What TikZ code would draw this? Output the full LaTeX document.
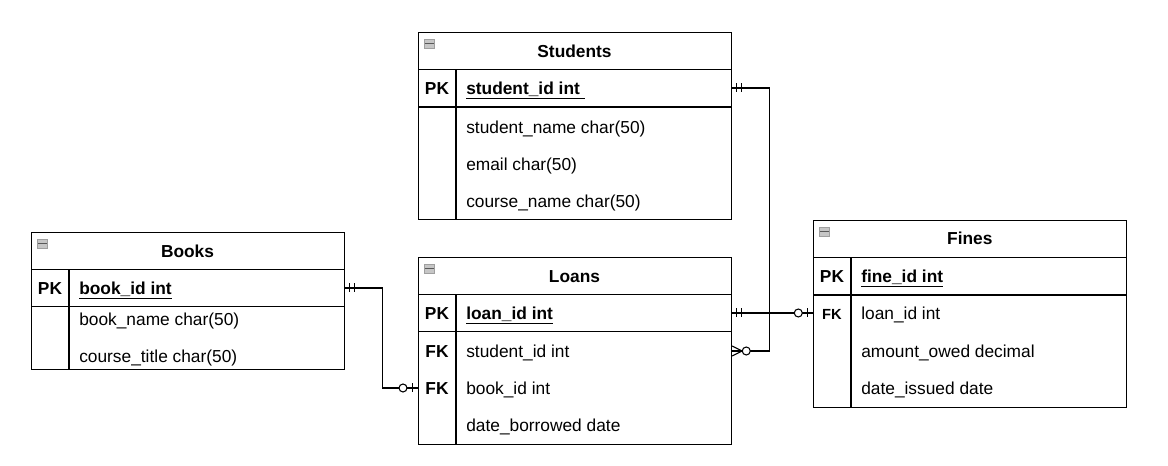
\documentclass[tikz,border=0pt]{standalone}
\usepackage{fontspec}
\setmainfont{Liberation Sans}
\usetikzlibrary{calc}
\newcommand\rowfont{\fontsize{13}{15}\selectfont}
\tikzset{
  tbl/.style={draw=black, line width=0.8pt, rectangle, inner sep=0pt, anchor=north west, minimum width=234.75pt},
  txt/.style={anchor=west, inner sep=0pt, text height=12pt, text depth=2.55pt, font=\rowfont},
  ttl/.style={txt, anchor=center, font=\rowfont\bfseries},
  keylbl/.style={txt, anchor=center, font=\rowfont\bfseries},
  smallkey/.style={txt, anchor=center, font=\fontsize{11}{13}\selectfont\bfseries},
  pktxt/.style={txt, font=\rowfont\bfseries},
  rule/.style={line width=0.8pt, draw=black},
  conn/.style={line width=0.8pt, draw=black},
  minus/.style={rectangle, inner sep=0pt, minimum width=7.5pt, minimum height=6.75pt, fill=gray!45, draw=gray!75, line width=0.5pt,
    path picture={\draw[black!65, line width=0.9pt] (path picture bounding box.west) -- (path picture bounding box.east);}},
  mone/.pic={\draw[conn] (4.5,-4.5) -- (4.5,4.5) (9,-4.5) -- (9,4.5);},
  zone/.pic={\draw[conn] (5.5,-4.5) -- (5.5,4.5); \draw[conn, fill=white] (15,0) circle[radius=4];},
  zmany/.pic={\draw[conn] (0,-5) -- (10,0) -- (0,5); \draw[conn, fill=white] (14.2,0) circle[radius=4];}
}
\begin{document}
\begin{tikzpicture}[x=0.75pt, y=-0.75pt]
\useasboundingbox[fill=white] (0,0) rectangle (1168,466);

% ---------- Students ----------
\node[tbl, minimum height=140.5pt] (students) at (418,32) {};
\draw[rule] (418,69.5) -- (731,69.5);
\draw[rule] (418,107) -- (731,107);
\draw[rule] (456,69.5) -- (456,219.3);
\node[minus] (stmin) at (429.5,43.5) {};
\node[ttl] (sttitle) at (574.5,51) {Students};
\node[keylbl] (stpkl) at (437,88) {PK};
\node[pktxt] (stpk) at (466,88) {\underline{student\_id int\ }};
\node[txt] (stname) at (466,127) {student\_name char(50)};
\node[txt] (stmail) at (466,164) {email char(50)};
\node[txt] (stcourse) at (466,201) {course\_name char(50)};

% ---------- Loans ----------
\node[tbl, minimum height=140.5pt] (loans) at (418,257) {};
\draw[rule] (418,294.3) -- (731,294.3);
\draw[rule] (418,331.7) -- (731,331.7);
\draw[rule] (456,294.3) -- (456,444.3);
\node[minus] (lnmin) at (429.5,268.5) {};
\node[ttl] (lntitle) at (574.5,276) {Loans};
\node[keylbl] (lnpkl) at (437,313) {PK};
\node[pktxt] (lnpk) at (466,313) {\underline{loan\_id int}};
\node[keylbl] (lnfk1) at (437,351) {FK};
\node[txt] (lnsid) at (466,351) {student\_id int};
\node[keylbl] (lnfk2) at (437,388) {FK};
\node[txt] (lnbid) at (466,388) {book\_id int};
\node[txt] (lndate) at (466,425.5) {date\_borrowed date};

% ---------- Books ----------
\node[tbl, minimum height=103pt] (books) at (31,232) {};
\draw[rule] (31,269.3) -- (344,269.3);
\draw[rule] (31,306.7) -- (344,306.7);
\draw[rule] (69,269.3) -- (69,369.3);
\node[minus] (bkmin) at (42.5,243.5) {};
\node[ttl] (bktitle) at (187.5,251) {Books};
\node[keylbl] (bkpkl) at (50,288) {PK};
\node[pktxt] (bkpk) at (79,288) {\underline{book\_id int}};
\node[txt] (bkname) at (79,319.4) {book\_name char(50)};
\node[txt] (bkcourse) at (79,356.4) {course\_title char(50)};

% ---------- Fines ----------
\node[tbl, minimum height=140pt] (fines) at (813.3,220) {};
\draw[rule] (813.3,257.3) -- (1126.3,257.3);
\draw[rule] (813.3,295) -- (1126.3,295);
\draw[rule] (851,257.3) -- (851,406.7);
\node[minus] (fnmin) at (824.8,231.5) {};
\node[ttl] (fntitle) at (969.8,238.5) {Fines};
\node[keylbl] (fnpkl) at (832,276) {PK};
\node[pktxt] (fnpk) at (861,276) {\underline{fine\_id int}};
\node[smallkey] (fnfkl) at (832,313) {FK};
\node[txt] (fnlid) at (861,313) {loan\_id int};
\node[txt] (fnamt) at (861,351) {amount\_owed decimal};
\node[txt] (fndate) at (861,388) {date\_issued date};

% ---------- Connectors ----------
\draw[conn] (students.east |- stpk) -- ++(37,0) |- (loans.east |- lnsid);
\draw[conn] (books.east |- bkpk) -- ++(37,0) |- (loans.west |- lnbid);
\draw[conn] (loans.east |- lnpk) -- (fines.west |- lnpk);

% ---------- Cardinality markers ----------
\pic at (students.east |- stpk) {mone};
\pic at (books.east |- bkpk) {mone};
\pic at (loans.east |- lnpk) {mone};
\pic at (loans.east |- lnsid) {zmany};
\pic[xscale=-1] at (loans.west |- lnbid) {zone};
\pic[xscale=-1] at (fines.west |- lnpk) {zone};
\end{tikzpicture}
\end{document}
